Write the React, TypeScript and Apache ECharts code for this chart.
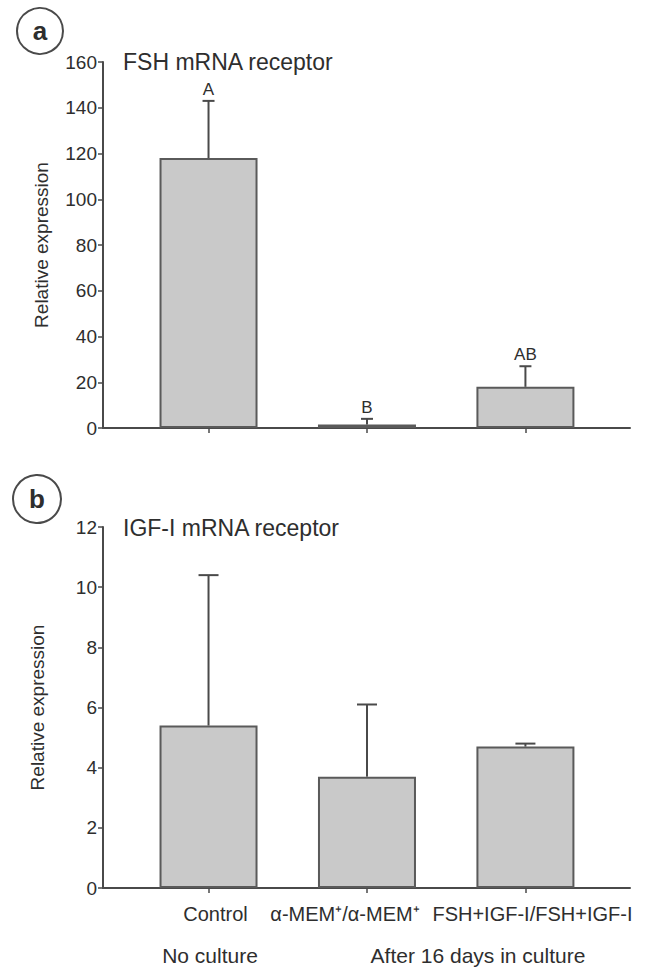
import React, { useEffect, useRef } from "react";
import * as echarts from "echarts";

const categories = ["Control", "α-MEM⁺/α-MEM⁺", "FSH+IGF-I/FSH+IGF-I"];
const positions = [1, 2, 3];
const fshMean = [118, 1.5, 18];
const fshUpper = [143, 4, 27];
const fshLetters = ["A", "B", "AB"];
const igfMean = [5.4, 3.7, 4.7];
const igfUpper = [10.4, 6.1, 4.8];
const fshTicks = { min: 0, max: 160, interval: 20 };
const igfTicks = { min: 0, max: 12, interval: 2 };
const groupLabels = ["No culture", "After 16 days in culture"];

const FONT = "Arial";
const AXIS = "#4a4a4a";
const TEXT = "#2e2e2e";

function errorSeries(gridIdx: number, mean: number[], upper: number[], capW: number, letters?: string[]) {
  return {
    type: "custom",
    xAxisIndex: gridIdx,
    yAxisIndex: gridIdx,
    data: positions.map((p, i) => [p, mean[i], upper[i]]),
    z: 5,
    renderItem: (params: any, api: any) => {
      const x = api.value(0);
      const lo = api.coord([x, api.value(1)]);
      const hi = api.coord([x, api.value(2)]);
      const children: any[] = [
        { type: "line", shape: { x1: lo[0], y1: lo[1], x2: hi[0], y2: hi[1] }, style: { stroke: AXIS, lineWidth: 2 } },
        { type: "line", shape: { x1: hi[0] - capW / 2, y1: hi[1], x2: hi[0] + capW / 2, y2: hi[1] }, style: { stroke: AXIS, lineWidth: 2 } },
      ];
      if (letters) {
        children.push({
          type: "text",
          x: hi[0],
          y: hi[1] - 3,
          style: { text: letters[params.dataIndex], fill: TEXT, fontSize: 17, fontFamily: FONT, align: "center", verticalAlign: "bottom" },
        });
      }
      return { type: "group", children };
    },
  };
}

export default function App() {
  const ref = useRef<HTMLDivElement>(null);
  useEffect(() => {
    if (!ref.current) return;
    const chart = echarts.init(ref.current, undefined, { renderer: "svg" });
    const xBase = {
      type: "value",
      min: 0.334,
      max: 3.66,
      splitLine: { show: false },
      axisLine: { show: true, onZero: false, lineStyle: { color: AXIS, width: 2 } },
      axisTick: { show: true, customValues: positions, length: 5, inside: false, lineStyle: { color: AXIS, width: 1.5 } },
    };
    const yBase = {
      type: "value",
      splitLine: { show: false },
      axisLine: { show: true, lineStyle: { color: AXIS, width: 2 } },
      axisTick: { show: true, length: 5, lineStyle: { color: AXIS, width: 1.5 } },
      axisLabel: { color: TEXT, fontSize: 19, fontFamily: FONT, margin: 6 },
      name: "Relative expression",
      nameLocation: "middle",
      nameRotate: 90,
      nameTextStyle: { color: TEXT, fontSize: 19, fontFamily: FONT },
    };
    const barStyle = { color: "#c9c9c9", borderColor: "#5a5a5a", borderWidth: 2 };
    chart.setOption({
      animation: false,
      backgroundColor: "#ffffff",
      grid: [
        { left: 103, top: 62, width: 527, height: 366 },
        { left: 103, top: 527, width: 527, height: 361 },
      ],
      xAxis: [
        { ...xBase, gridIndex: 0, axisLabel: { show: false } },
        {
          ...xBase,
          gridIndex: 1,
          axisLabel: {
            show: true,
            customValues: positions,
            color: TEXT,
            fontSize: 20,
            fontFamily: FONT,
            margin: 16,
            formatter: (v: number) => {
              const i = positions.indexOf(Math.round(v));
              return `{c${i}|${categories[i]}}`;
            },
            rich: {
              c0: { fontSize: 20, fontFamily: FONT, color: TEXT, padding: [0, 0, 0, 14] },
              c1: { fontSize: 20, fontFamily: FONT, color: TEXT, padding: [0, 44, 0, 0] },
              c2: { fontSize: 20, fontFamily: FONT, color: TEXT, padding: [0, 0, 0, 14] },
            },
          },
        },
      ],
      yAxis: [
        { ...yBase, gridIndex: 0, ...fshTicks, nameGap: 52 },
        { ...yBase, gridIndex: 1, ...igfTicks, nameGap: 56 },
      ],
      series: [
        {
          type: "bar",
          xAxisIndex: 0,
          yAxisIndex: 0,
          barWidth: 98,
          data: positions.map((p, i) => [p, fshMean[i]]),
          itemStyle: barStyle,
        },
        errorSeries(0, fshMean, fshUpper, 12, fshLetters),
        {
          type: "bar",
          xAxisIndex: 1,
          yAxisIndex: 1,
          barWidth: 98,
          data: positions.map((p, i) => [p, igfMean[i]]),
          itemStyle: barStyle,
        },
        errorSeries(1, igfMean, igfUpper, 20),
      ],
      graphic: [
        { type: "circle", shape: { cx: 40, cy: 31, r: 23 }, style: { fill: "none", stroke: AXIS, lineWidth: 2 } },
        { type: "text", x: 40, y: 31, style: { text: "a", fontSize: 26, fontWeight: "bold", fontFamily: FONT, fill: TEXT, align: "center", verticalAlign: "middle" } },
        { type: "circle", shape: { cx: 37, cy: 499, r: 24 }, style: { fill: "none", stroke: AXIS, lineWidth: 2 } },
        { type: "text", x: 37, y: 499, style: { text: "b", fontSize: 26, fontWeight: "bold", fontFamily: FONT, fill: TEXT, align: "center", verticalAlign: "middle" } },
        { type: "text", x: 123, y: 62, style: { text: "FSH mRNA receptor", fontSize: 23, fontFamily: FONT, fill: TEXT, verticalAlign: "middle" } },
        { type: "text", x: 123, y: 528, style: { text: "IGF-I mRNA receptor", fontSize: 23, fontFamily: FONT, fill: TEXT, verticalAlign: "middle" } },
        { type: "text", x: 210, y: 955, style: { text: groupLabels[0], fontSize: 21, fontFamily: FONT, fill: TEXT, align: "center", verticalAlign: "middle" } },
        { type: "text", x: 478, y: 955, style: { text: groupLabels[1], fontSize: 21, fontFamily: FONT, fill: TEXT, align: "center", verticalAlign: "middle" } },
      ],
    });
    return () => chart.dispose();
  }, []);
  return <div ref={ref} style={{ width: 659, height: 971, position: "absolute", left: 0, top: 0 }} />;
}
